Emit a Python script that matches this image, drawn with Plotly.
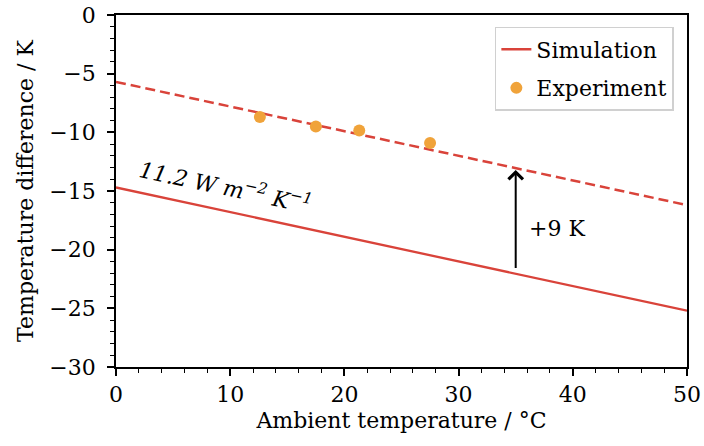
import plotly.graph_objects as go

# Data
x_sim = [0, 50]
y_sim = [-14.7, -25.2]
offset_k = 9
y_sim_shift = [v + offset_k for v in y_sim]
x_exp = [12.6, 17.5, 21.3, 27.5]
y_exp = [-8.7, -9.5, -9.85, -10.9]

red = "#d9433a"
orange = "#f0a33a"
font = "DejaVu Serif"
fs = 22

fig = go.Figure()
fig.add_trace(go.Scatter(x=x_sim, y=y_sim, mode="lines", name="Simulation", legendgroup="a",
                         line=dict(color=red, width=2.3)))
fig.add_trace(go.Scatter(x=x_sim, y=y_sim_shift, mode="lines", showlegend=False, legendgroup="a",
                         line=dict(color=red, width=2.5, dash="10px,5px")))
fig.add_trace(go.Scatter(x=x_exp, y=y_exp, mode="markers", name="Experiment", legendgroup="b",
                         marker=dict(color=orange, size=12)))

axis_common = dict(showline=True, linecolor="black", linewidth=1.8, mirror=True,
                   ticks="outside", ticklen=7, tickwidth=1.8, tickcolor="black",
                   showgrid=False, zeroline=False, automargin=False, ticklabeloverflow="allow",
                   tickfont=dict(family=font, size=fs, color="black"))
fig.update_xaxes(range=[0, 50], tick0=0, dtick=10,
                 minor=dict(ticks="outside", ticklen=4, tickwidth=1.2, tickcolor="black", dtick=2),
                 title=dict(text="Ambient temperature / °C", font=dict(family=font, size=fs, color="black"),
                            standoff=6),
                 **axis_common)
fig.update_yaxes(range=[-30, 0], tick0=0, dtick=5, ticklabelstandoff=7,
                 minor=dict(ticks="outside", ticklen=4, tickwidth=1.2, tickcolor="black", dtick=1),
                 title=dict(text="Temperature difference / K", font=dict(family=font, size=fs, color="black"),
                            standoff=10),
                 **axis_common)

fig.add_annotation(x=35, y=-13.2, ax=35, ay=-21.7, xref="x", yref="y", axref="x", ayref="y",
                   showarrow=True, arrowhead=4, arrowsize=1.4, arrowwidth=2, arrowcolor="black", text="")
fig.add_annotation(x=36, y=-18.2, xref="x", yref="y", text="+9 K", showarrow=False, xanchor="left",
                   font=dict(family=font, size=fs, color="black"))
fig.add_annotation(x=9.6, y=-14.6, xref="x", yref="y", showarrow=False, textangle=12,
                   text="<i>11.2 W m<sup>−2</sup> K<sup>−1</sup></i>",
                   font=dict(family=font, size=fs, color="black"))

fig.update_layout(width=704, height=446, margin=dict(l=116, r=17, t=15, b=79),
                  plot_bgcolor="white", paper_bgcolor="white",
                  legend=dict(x=0.977, y=0.966, xanchor="right", yanchor="top",
                              bgcolor="white", bordercolor="#d0d0d0", borderwidth=1.5,
                              tracegroupgap=7, traceorder="grouped",
                              font=dict(family=font, size=fs, color="black")),
                  )
# remove the default 8px page margin so the figure sits flush in the window
fig.write_html("out.html", config={"displayModeBar": False},
               post_script="document.body.style.margin='0';document.body.style.overflow='hidden';")
